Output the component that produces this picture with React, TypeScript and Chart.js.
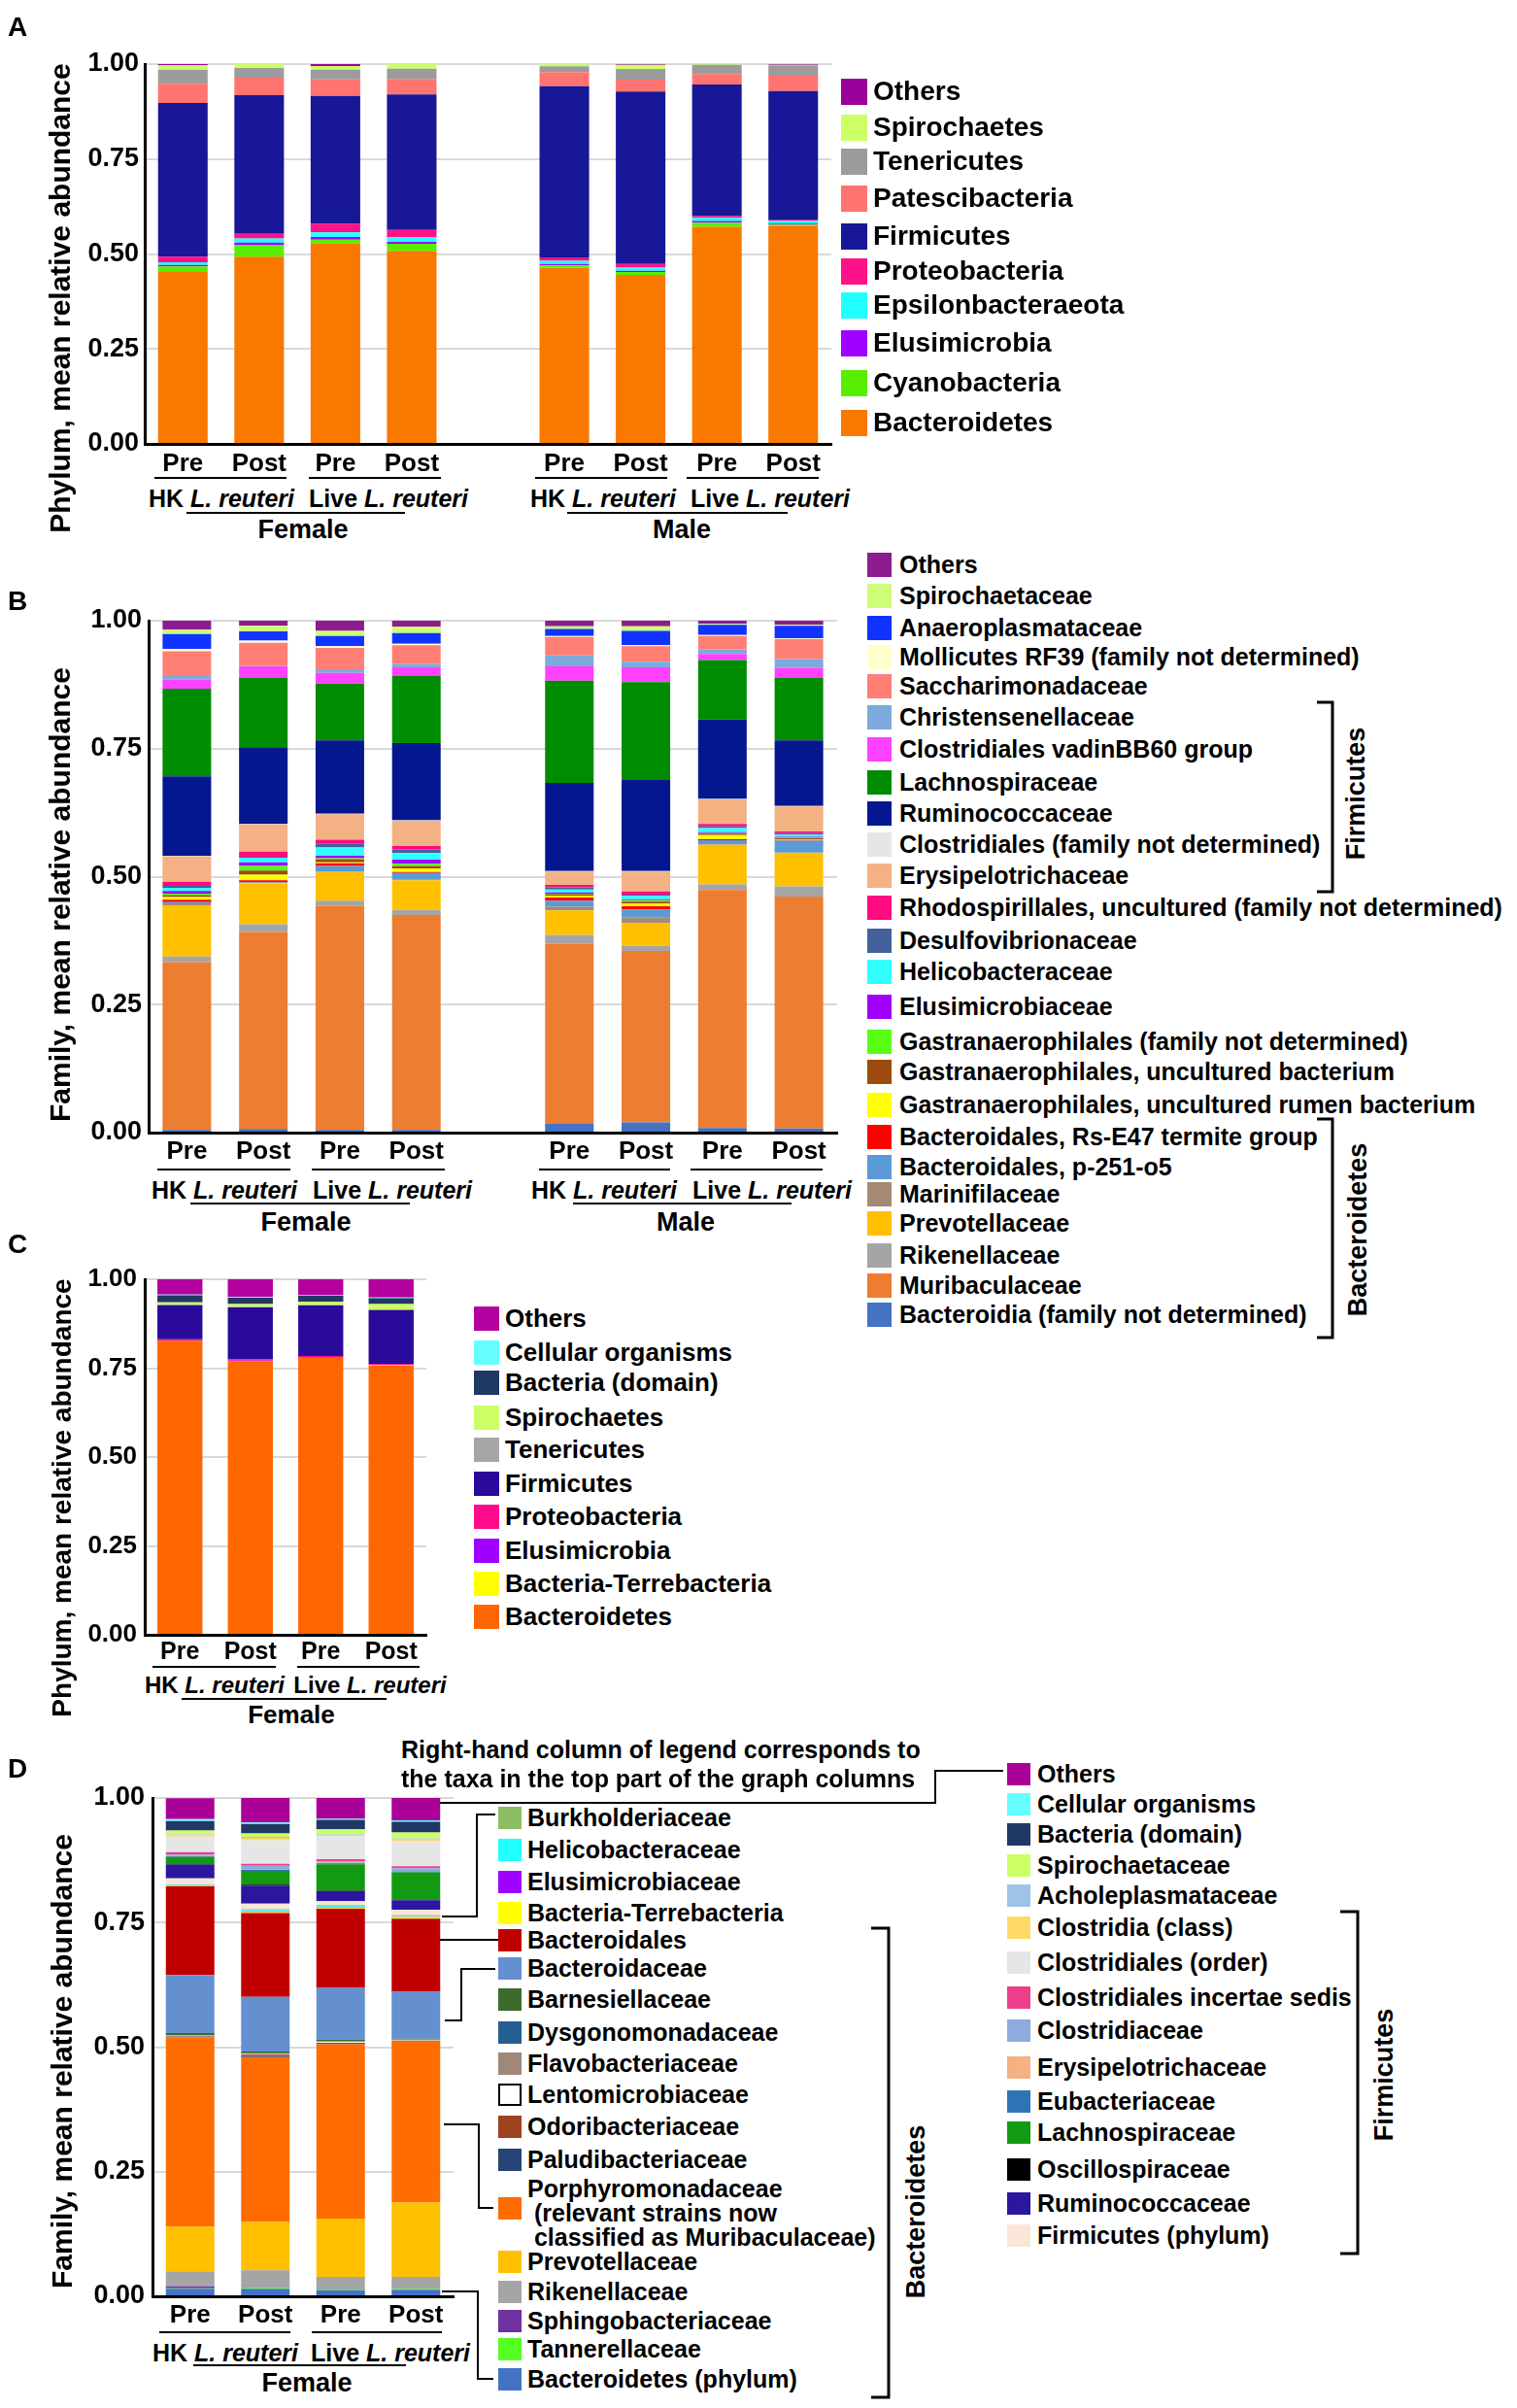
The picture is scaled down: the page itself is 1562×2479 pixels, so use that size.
import React, { useEffect, useRef } from 'react';
import { Chart, registerables } from 'chart.js';

Chart.register(...registerables);

const FONT = '"Liberation Sans", Arial, Helvetica, sans-serif';

// ---------------- categories ----------------
const prePost = ['Pre', 'Post', 'Pre', 'Post'];
const prePostMF = ['Pre', 'Post', 'Pre', 'Post', '', 'Pre', 'Post', 'Pre', 'Post'];
const yTicks = [0, 0.25, 0.5, 0.75, 1];

// ---------------- Panel A (phylum, female + male) ----------------
const aBacteroidetes = [0.453, 0.493, 0.528, 0.508, 0.464, 0.445, 0.5715, 0.574];
const aCyanobacteria = [0.0145, 0.03, 0.0095, 0.019, 0.006, 0.008, 0.011, 0.0035];
const aElusimicrobia = [0.004, 0.007, 0.0075, 0.005, 0.003, 0.003, 0.0045, 0.0025];
const aEpsilonbacteraeota = [0.007, 0.011, 0.012, 0.013, 0.009, 0.008, 0.008, 0.007];
const aProteobacteria = [0.0145, 0.012, 0.023, 0.018, 0.009, 0.01, 0.005, 0.004];
const aFirmicutes = [0.405, 0.365, 0.336, 0.357, 0.451, 0.454, 0.346, 0.338];
const aPatescibacteria = [0.05, 0.046, 0.044, 0.041, 0.037, 0.031, 0.028, 0.04];
const aTenericutes = [0.037, 0.026, 0.025, 0.027, 0.015, 0.028, 0.024, 0.028];
const aSpirochaetes = [0.0116, 0.01, 0.01, 0.012, 0.006, 0.011, 0.002, 0.001];
const aOthers = [0.0034, 0, 0.005, 0, 0, 0.002, 0, 0.002];

// ---------------- Panel B (family, female + male) ----------------
const bBacteroidiaFnd = [0.005, 0.007, 0.005, 0.005, 0.017, 0.02, 0.009, 0.008];
const bMuribaculaceae = [0.328, 0.385, 0.438, 0.42, 0.352, 0.335, 0.465, 0.453];
const bRikenellaceae = [0.011, 0.015, 0.01, 0.01, 0.017, 0.01, 0.011, 0.02];
const bPrevotellaceae = [0.1, 0.08, 0.056, 0.058, 0.048, 0.044, 0.077, 0.065];
const bMarinifilaceae = [0.004, 0.001, 0.001, 0.001, 0.007, 0.012, 0.001, 0.001];
const bP251o5 = [0.002, 0.001, 0.011, 0.013, 0.012, 0.015, 0.008, 0.023];
const bRsE47 = [0.005, 0.004, 0.005, 0.002, 0.006, 0.006, 0.002, 0.001];
const bGastrRumen = [0.005, 0.011, 0.002, 0.007, 0.004, 0.006, 0.008, 0.001];
const bGastrUncultured = [0.004, 0.008, 0.006, 0.005, 0.003, 0.003, 0.003, 0.003];
const bGastrFnd = [0.003, 0.009, 0.002, 0.004, 0.001, 0.003, 0.001, 0.001];
const bElusimicrobiaceae = [0.005, 0.007, 0.005, 0.008, 0.002, 0.002, 0.002, 0.002];
const bHelicobacteraceae = [0.006, 0.009, 0.016, 0.013, 0.006, 0.007, 0.008, 0.004];
const bDesulfovibrionaceae = [0.004, 0.002, 0.008, 0.007, 0.004, 0.002, 0.003, 0.003];
const bRhodospirillales = [0.008, 0.01, 0.007, 0.007, 0.005, 0.006, 0.005, 0.003];
const bErysipelotrichaceae = [0.05, 0.053, 0.05, 0.049, 0.026, 0.039, 0.048, 0.049];
const bClostridialesFnd = [0.001, 0.001, 0.001, 0.001, 0.001, 0.001, 0.001, 0.001];
const bRuminococcaceae = [0.155, 0.15, 0.143, 0.151, 0.172, 0.178, 0.155, 0.128];
const bLachnospiraceae = [0.171, 0.136, 0.111, 0.131, 0.2, 0.191, 0.116, 0.122];
const bVadinBB60 = [0.018, 0.022, 0.021, 0.017, 0.028, 0.029, 0.012, 0.02];
const bChristensenellaceae = [0.007, 0.001, 0.007, 0.006, 0.021, 0.011, 0.009, 0.017];
const bSaccharimonadaceae = [0.048, 0.045, 0.042, 0.037, 0.036, 0.03, 0.026, 0.039];
const bMollicutesRF39 = [0.005, 0.004, 0.003, 0.003, 0.002, 0.002, 0.002, 0.002];
const bAnaeroplasmataceae = [0.029, 0.018, 0.02, 0.021, 0.014, 0.028, 0.02, 0.024];
const bSpirochaetaceae = [0.009, 0.011, 0.01, 0.012, 0.005, 0.009, 0.002, 0.002];
const bOthers = [0.017, 0.01, 0.02, 0.012, 0.011, 0.011, 0.007, 0.009];

// ---------------- Panel C (phylum, female) ----------------
const cBacteroidetes = [0.827, 0.77, 0.779, 0.757];
const cTerrebacteria = [0, 0, 0, 0.001];
const cElusimicrobia = [0.001, 0.001, 0.001, 0.001];
const cProteobacteria = [0.003, 0.004, 0.004, 0.003];
const cFirmicutes = [0.096, 0.146, 0.142, 0.151];
const cTenericutes = [0.002, 0.002, 0.002, 0.002];
const cSpirochaetes = [0.006, 0.007, 0.009, 0.015];
const cBacteriaDomain = [0.02, 0.018, 0.017, 0.017];
const cCellular = [0.002, 0.002, 0.002, 0.002];
const cOthers = [0.043, 0.05, 0.044, 0.051];

// ---------------- Panel D (family, female) ----------------
const dBacteroidetesPhylum = [0.015, 0.015, 0.012, 0.013];
const dTannerellaceae = [0.001, 0.002, 0.002, 0.002];
const dSphingobacteriaceae = [0.004, 0.001, 0.001, 0.001];
const dRikenellaceae = [0.03, 0.034, 0.024, 0.023];
const dPrevotellaceae = [0.09, 0.097, 0.117, 0.149];
const dPorphyromonadaceae = [0.38, 0.331, 0.35, 0.323];
const dPaludibacteriaceae = [0.001, 0.002, 0.001, 0.001];
const dOdoribacteriaceae = [0.001, 0.003, 0.002, 0.001];
const dLentomicrobiaceae = [0.001, 0.001, 0.001, 0.001];
const dFlavobacteriaceae = [0.0005, 0.001, 0.001, 0.001];
const dDysgonomonadaceae = [0.001, 0.001, 0.001, 0.001];
const dBarnesiellaceae = [0.004, 0.003, 0.003, 0.001];
const dBacteroidaceae = [0.116, 0.11, 0.104, 0.094];
const dBacteroidales = [0.178, 0.168, 0.159, 0.147];
const dTerrebacteria = [0.001, 0.002, 0.001, 0.003];
const dElusimicrobiaceae = [0.001, 0.001, 0.001, 0.001];
const dHelicobacteraceae = [0.001, 0.003, 0.003, 0.001];
const dBurkholderiaceae = [0.001, 0.002, 0.002, 0.002];
const dFirmicutesPhylum = [0.012, 0.011, 0.008, 0.011];
const dRuminococcaceae = [0.028, 0.036, 0.02, 0.019];
const dOscillospiraceae = [0.001, 0.002, 0.001, 0.001];
const dLachnospiraceae = [0.014, 0.028, 0.053, 0.055];
const dEubacteriaceae = [0.002, 0.002, 0.002, 0.002];
const dErysipelotrichaceae = [0.001, 0.001, 0.001, 0.001];
const dClostridiaceae = [0.002, 0.007, 0.003, 0.005];
const dIncertaeSedis = [0.005, 0.004, 0.004, 0.004];
const dClostridialesOrder = [0.031, 0.047, 0.047, 0.051];
const dClostridiaClass = [0.004, 0.005, 0.002, 0.004];
const dAcholeplasmataceae = [0.001, 0.002, 0.001, 0.001];
const dSpirochaetaceae = [0.007, 0.007, 0.01, 0.012];
const dBacteriaDomain = [0.019, 0.019, 0.019, 0.021];
const dCellular = [0.004, 0.003, 0.002, 0.003];
const dOthers = [0.042, 0.049, 0.042, 0.045];

type Series = { label: string; color: string; data: number[]; border?: string };

// series listed bottom -> top of the stack
const seriesA: Series[] = [
  { label: 'Bacteroidetes', color: '#F87800', data: aBacteroidetes },
  { label: 'Cyanobacteria', color: '#58EE00', data: aCyanobacteria },
  { label: 'Elusimicrobia', color: '#A000FF', data: aElusimicrobia },
  { label: 'Epsilonbacteraeota', color: '#22FFFF', data: aEpsilonbacteraeota },
  { label: 'Proteobacteria', color: '#FF1188', data: aProteobacteria },
  { label: 'Firmicutes', color: '#171797', data: aFirmicutes },
  { label: 'Patescibacteria', color: '#FF7370', data: aPatescibacteria },
  { label: 'Tenericutes', color: '#9C9C9C', data: aTenericutes },
  { label: 'Spirochaetes', color: '#CCFF66', data: aSpirochaetes },
  { label: 'Others', color: '#990099', data: aOthers },
];

const seriesB: Series[] = [
  { label: 'Bacteroidia (family not determined)', color: '#4472C4', data: bBacteroidiaFnd },
  { label: 'Muribaculaceae', color: '#ED7D31', data: bMuribaculaceae },
  { label: 'Rikenellaceae', color: '#A5A5A5', data: bRikenellaceae },
  { label: 'Prevotellaceae', color: '#FFC000', data: bPrevotellaceae },
  { label: 'Marinifilaceae', color: '#A68A75', data: bMarinifilaceae },
  { label: 'Bacteroidales, p-251-o5', color: '#5B9BD5', data: bP251o5 },
  { label: 'Bacteroidales, Rs-E47 termite group', color: '#FF0000', data: bRsE47 },
  { label: 'Gastranaerophilales, uncultured rumen bacterium', color: '#FFFF00', data: bGastrRumen },
  { label: 'Gastranaerophilales, uncultured bacterium', color: '#9E4A0E', data: bGastrUncultured },
  { label: 'Gastranaerophilales (family not determined)', color: '#55FF11', data: bGastrFnd },
  { label: 'Elusimicrobiaceae', color: '#A000FF', data: bElusimicrobiaceae },
  { label: 'Helicobacteraceae', color: '#33FFFF', data: bHelicobacteraceae },
  { label: 'Desulfovibrionaceae', color: '#44619D', data: bDesulfovibrionaceae },
  { label: 'Rhodospirillales, uncultured (family not determined)', color: '#FF0A80', data: bRhodospirillales },
  { label: 'Erysipelotrichaceae', color: '#F4B183', data: bErysipelotrichaceae },
  { label: 'Clostridiales (family not determined)', color: '#E6E6E6', data: bClostridialesFnd },
  { label: 'Ruminococcaceae', color: '#04178E', data: bRuminococcaceae },
  { label: 'Lachnospiraceae', color: '#008C00', data: bLachnospiraceae },
  { label: 'Clostridiales vadinBB60 group', color: '#FF40FF', data: bVadinBB60 },
  { label: 'Christensenellaceae', color: '#7DAADC', data: bChristensenellaceae },
  { label: 'Saccharimonadaceae', color: '#FF7F74', data: bSaccharimonadaceae },
  { label: 'Mollicutes RF39 (family not determined)', color: '#FFFFCC', data: bMollicutesRF39 },
  { label: 'Anaeroplasmataceae', color: '#1133FF', data: bAnaeroplasmataceae },
  { label: 'Spirochaetaceae', color: '#CCFF77', data: bSpirochaetaceae },
  { label: 'Others', color: '#8E1C8E', data: bOthers },
];

const seriesC: Series[] = [
  { label: 'Bacteroidetes', color: '#FF6600', data: cBacteroidetes },
  { label: 'Bacteria-Terrebacteria', color: '#FFFF00', data: cTerrebacteria },
  { label: 'Elusimicrobia', color: '#A000FF', data: cElusimicrobia },
  { label: 'Proteobacteria', color: '#FF0A8C', data: cProteobacteria },
  { label: 'Firmicutes', color: '#2A0A9A', data: cFirmicutes },
  { label: 'Tenericutes', color: '#A6A6A6', data: cTenericutes },
  { label: 'Spirochaetes', color: '#CCFF66', data: cSpirochaetes },
  { label: 'Bacteria (domain)', color: '#1F3864', data: cBacteriaDomain },
  { label: 'Cellular organisms', color: '#66FFFF', data: cCellular },
  { label: 'Others', color: '#B4009F', data: cOthers },
];

const seriesDBottom: Series[] = [
  { label: 'Bacteroidetes (phylum)', color: '#4472C4', data: dBacteroidetesPhylum },
  { label: 'Tannerellaceae', color: '#55FF22', data: dTannerellaceae },
  { label: 'Sphingobacteriaceae', color: '#7030A0', data: dSphingobacteriaceae },
  { label: 'Rikenellaceae', color: '#A5A5A5', data: dRikenellaceae },
  { label: 'Prevotellaceae', color: '#FFC000', data: dPrevotellaceae },
  { label: 'Porphyromonadaceae\n (relevant strains now\n classified as Muribaculaceae)', color: '#FF6D00', data: dPorphyromonadaceae },
  { label: 'Paludibacteriaceae', color: '#264478', data: dPaludibacteriaceae },
  { label: 'Odoribacteriaceae', color: '#9E4320', data: dOdoribacteriaceae },
  { label: 'Lentomicrobiaceae', color: '#FFFFFF', data: dLentomicrobiaceae, border: '#000000' },
  { label: 'Flavobacteriaceae', color: '#A08878', data: dFlavobacteriaceae },
  { label: 'Dysgonomonadaceae', color: '#255E91', data: dDysgonomonadaceae },
  { label: 'Barnesiellaceae', color: '#3D6B2C', data: dBarnesiellaceae },
  { label: 'Bacteroidaceae', color: '#6490D0', data: dBacteroidaceae },
  { label: 'Bacteroidales', color: '#C00000', data: dBacteroidales },
  { label: 'Bacteria-Terrebacteria', color: '#FFFF00', data: dTerrebacteria },
  { label: 'Elusimicrobiaceae', color: '#A000FF', data: dElusimicrobiaceae },
  { label: 'Helicobacteraceae', color: '#22FFFF', data: dHelicobacteraceae },
  { label: 'Burkholderiaceae', color: '#8CBF64', data: dBurkholderiaceae },
];

const seriesDTop: Series[] = [
  { label: 'Firmicutes (phylum)', color: '#FBE5D6', data: dFirmicutesPhylum },
  { label: 'Ruminococcaceae', color: '#2B169E', data: dRuminococcaceae },
  { label: 'Oscillospiraceae', color: '#000000', data: dOscillospiraceae },
  { label: 'Lachnospiraceae', color: '#129A12', data: dLachnospiraceae },
  { label: 'Eubacteriaceae', color: '#2E75B6', data: dEubacteriaceae },
  { label: 'Erysipelotrichaceae', color: '#F4B183', data: dErysipelotrichaceae },
  { label: 'Clostridiaceae', color: '#8FAADC', data: dClostridiaceae },
  { label: 'Clostridiales incertae sedis', color: '#EB3F8C', data: dIncertaeSedis },
  { label: 'Clostridiales (order)', color: '#E7E6E6', data: dClostridialesOrder },
  { label: 'Clostridia (class)', color: '#FFD966', data: dClostridiaClass },
  { label: 'Acholeplasmataceae', color: '#9DC3E6', data: dAcholeplasmataceae },
  { label: 'Spirochaetaceae', color: '#CCFF66', data: dSpirochaetaceae },
  { label: 'Bacteria (domain)', color: '#1F3864', data: dBacteriaDomain },
  { label: 'Cellular organisms', color: '#66FFFF', data: dCellular },
  { label: 'Others', color: '#AA0098', data: dOthers },
];

// ---------------- legend layout (top -> bottom, y centres in px) ----------------
const legendYA = [94, 131, 166, 204, 243, 279, 314, 353, 394, 435];
const legendYB = [581, 613, 646, 676, 706, 738, 771, 805, 837, 869, 901, 934, 968, 1000, 1036, 1072, 1103, 1137, 1170, 1201, 1229, 1259, 1292, 1323, 1353];
const legendYC = [1357, 1392, 1423, 1459, 1492, 1527, 1561, 1596, 1630, 1664];
const legendYDmid = [1871, 1904, 1937, 1969, 1997, 2026, 2058, 2092, 2124, 2156, 2189, 2223, 2273, 2328, 2359, 2389, 2418, 2449];
const legendYDright = [1826, 1857, 1888, 1920, 1951, 1984, 2020, 2056, 2090, 2128, 2163, 2195, 2233, 2268, 2301];

type ChartProps = {
  left: number; top: number; width: number; height: number;
  padTop: number; padRight: number; yW: number; xH: number;
  labels: string[]; series: Series[]; gapAt?: number; barPct: number;
  yFont: number; xFont: number; xPad: number; yPad: number;
};

function StackedBars(p: ChartProps) {
  const ref = useRef<HTMLCanvasElement | null>(null);
  useEffect(() => {
    if (!ref.current) return;
    const withGap = (d: number[]) =>
      p.gapAt === undefined ? d : [...d.slice(0, p.gapAt), null, ...d.slice(p.gapAt)];
    const chart = new Chart(ref.current, {
      type: 'bar',
      data: {
        labels: p.labels,
        datasets: p.series.map((s) => ({
          label: s.label,
          data: withGap(s.data) as any,
          backgroundColor: s.color,
          borderWidth: 0,
          barPercentage: p.barPct,
          categoryPercentage: 1,
        })),
      },
      options: {
        animation: false,
        responsive: false,
        maintainAspectRatio: false,
        layout: { padding: { top: p.padTop, right: p.padRight, left: 0, bottom: 0 }, autoPadding: false } as any,
        plugins: { legend: { display: false }, tooltip: { enabled: false } },
        scales: {
          x: {
            stacked: true,
            grid: { display: false, drawTicks: false },
            border: { color: '#000', width: 3 },
            ticks: {
              color: '#000',
              font: { family: FONT, size: p.xFont, weight: 'bold' },
              padding: p.xPad,
              maxRotation: 0,
              autoSkip: false,
            },
            afterFit: (s: any) => { s.height = p.xH; },
          },
          y: {
            stacked: true,
            min: 0,
            max: 1,
            afterBuildTicks: (s: any) => { s.ticks = yTicks.map((v) => ({ value: v })); },
            grid: { color: '#D9D9D9', lineWidth: 2, drawTicks: false },
            border: { color: '#000', width: 3 },
            ticks: {
              color: '#000',
              font: { family: FONT, size: p.yFont, weight: 'bold' },
              padding: p.yPad,
              callback: (v: any) => Number(v).toFixed(2),
            },
            afterFit: (s: any) => { s.width = p.yW; },
          },
        },
      } as any,
    });
    return () => chart.destroy();
  }, []);
  return (
    <canvas
      ref={ref}
      width={p.width}
      height={p.height}
      style={{ position: 'absolute', left: p.left, top: p.top, width: p.width, height: p.height }}
    />
  );
}

function Legend(props: {
  items: Series[]; ys: number[]; x: number; w: number; h: number; gap: number; size: number; multiDy?: number;
}) {
  const { items, ys, x, w, h, gap, size } = props;
  return (
    <>
      {items.map((it, i) => {
        const multi = it.label.includes('\n');
        const ty = multi ? ys[i] + (props.multiDy ?? 0) : ys[i];
        return (
          <React.Fragment key={i}>
            <div
              style={{
                position: 'absolute', left: x, top: ys[i] - h / 2, width: w, height: h,
                background: it.color, boxSizing: 'border-box',
                border: it.border ? `2px solid ${it.border}` : 'none',
              }}
            />
            <div
              style={{
                position: 'absolute', left: x + w + gap, top: ty, transform: 'translateY(-50%)',
                fontSize: size, fontWeight: 700, lineHeight: multi ? `${size}px` : 1,
                whiteSpace: 'pre',
              }}
            >
              {it.label}
            </div>
          </React.Fragment>
        );
      })}
    </>
  );
}

function Txt(props: { x: number; y: number; size: number; center?: boolean; children: React.ReactNode }) {
  return (
    <div
      style={{
        position: 'absolute', left: props.x, top: props.y,
        transform: props.center ? 'translate(-50%, -50%)' : 'translateY(-50%)',
        fontSize: props.size, fontWeight: 700, lineHeight: 1, whiteSpace: 'nowrap',
      }}
    >
      {props.children}
    </div>
  );
}

function VTxt(props: { x: number; y: number; size: number; children: React.ReactNode }) {
  return (
    <div
      style={{
        position: 'absolute', left: props.x, top: props.y,
        transform: 'translate(-50%, -50%) rotate(-90deg)',
        fontSize: props.size, fontWeight: 700, lineHeight: 1, whiteSpace: 'nowrap',
      }}
    >
      {props.children}
    </div>
  );
}

const HK = () => (<>HK <i>L. reuteri</i></>);
const LIVE = () => (<>Live <i>L. reuteri</i></>);

export default function App() {
  const rev = (s: Series[]) => [...s].reverse();
  const hl = (x1: number, x2: number, y: number, w = 2) => (
    <line x1={x1} x2={x2} y1={y} y2={y} stroke="#000" strokeWidth={w} />
  );
  const pl = (pts: number[][], w = 2) => (
    <polyline points={pts.map((p) => p.join(',')).join(' ')} fill="none" stroke="#000" strokeWidth={w} />
  );
  return (
    <div
      style={{
        position: 'absolute', left: 0, top: 0, width: 1562, height: 2479, background: '#fff',
        fontFamily: FONT, color: '#000', overflow: 'hidden',
      }}
    >
      {/* Charts */}
      <StackedBars left={0} top={36} width={870} height={461} padTop={30} padRight={14} yW={149} xH={40}
        labels={prePostMF} series={seriesA} gapAt={4} barPct={0.65} yFont={27} xFont={26} xPad={5} yPad={6} />
      <StackedBars left={0} top={609} width={876} height={597} padTop={30} padRight={14} yW={153} xH={40}
        labels={prePostMF} series={seriesB} gapAt={4} barPct={0.635} yFont={27} xFont={26} xPad={4} yPad={7} />
      <StackedBars left={0} top={1287} width={453} height={434} padTop={30} padRight={14} yW={149} xH={38}
        labels={prePost} series={seriesC} barPct={0.64} yFont={26} xFont={25} xPad={3} yPad={8} />
      <StackedBars left={0} top={1821} width={481} height={583} padTop={30} padRight={14} yW={157} xH={40}
        labels={prePost} series={[...seriesDBottom, ...seriesDTop]} barPct={0.645} yFont={27} xFont={26} xPad={4} yPad={8} />

      {/* Panel letters */}
      <Txt x={8} y={28} size={28}>A</Txt>
      <Txt x={8} y={619} size={28}>B</Txt>
      <Txt x={8} y={1281} size={28}>C</Txt>
      <Txt x={8} y={1821} size={28}>D</Txt>

      {/* Y titles */}
      <VTxt x={62} y={307} size={30}>Phylum, mean relative abundance</VTxt>
      <VTxt x={62} y={921} size={30}>Family, mean relative abundance</VTxt>
      <VTxt x={64} y={1542} size={28}>Phylum, mean relative abundance</VTxt>
      <VTxt x={64} y={2122} size={30}>Family, mean relative abundance</VTxt>

      {/* Group labels A */}
      <Txt x={228} y={513} size={25} center><HK /></Txt>
      <Txt x={400} y={513} size={25} center><LIVE /></Txt>
      <Txt x={621} y={513} size={25} center><HK /></Txt>
      <Txt x={793} y={513} size={25} center><LIVE /></Txt>
      <Txt x={312} y={545} size={27} center>Female</Txt>
      <Txt x={702} y={545} size={27} center>Male</Txt>

      {/* Group labels B */}
      <Txt x={231} y={1225} size={25} center><HK /></Txt>
      <Txt x={404} y={1225} size={25} center><LIVE /></Txt>
      <Txt x={622} y={1225} size={25} center><HK /></Txt>
      <Txt x={795} y={1225} size={25} center><LIVE /></Txt>
      <Txt x={315} y={1258} size={27} center>Female</Txt>
      <Txt x={706} y={1258} size={27} center>Male</Txt>

      {/* Group labels C */}
      <Txt x={221} y={1735} size={24} center><HK /></Txt>
      <Txt x={381} y={1735} size={24} center><LIVE /></Txt>
      <Txt x={300} y={1765} size={26} center>Female</Txt>

      {/* Group labels D */}
      <Txt x={232} y={2422} size={25} center><HK /></Txt>
      <Txt x={402} y={2422} size={25} center><LIVE /></Txt>
      <Txt x={316} y={2453} size={27} center>Female</Txt>

      {/* Legends */}
      <Legend items={rev(seriesA)} ys={legendYA} x={866} w={27} h={27} gap={6} size={28} />
      <Legend items={rev(seriesB)} ys={legendYB} x={893} w={25} h={25} gap={8} size={25} />
      <Legend items={rev(seriesC)} ys={legendYC} x={488} w={26} h={25} gap={6} size={26} />
      <Legend items={rev(seriesDBottom)} ys={legendYDmid} x={513} w={24} h={23} gap={6} size={25} multiDy={5} />
      <Legend items={rev(seriesDTop)} ys={legendYDright} x={1037} w={24} h={23} gap={7} size={25} />

      {/* Group names of brackets */}
      <VTxt x={1396} y={817} size={27}>Firmicutes</VTxt>
      <VTxt x={1398} y={1266} size={27}>Bacteroidetes</VTxt>
      <VTxt x={943} y={2277} size={27}>Bacteroidetes</VTxt>
      <VTxt x={1425} y={2136} size={27}>Firmicutes</VTxt>

      {/* D note */}
      <Txt x={413} y={1801} size={25}>Right-hand column of legend corresponds to</Txt>
      <Txt x={413} y={1831} size={25}>the taxa in the top part of the graph columns</Txt>

      <svg width={1562} height={2479} style={{ position: 'absolute', left: 0, top: 0, pointerEvents: 'none' }}>
        {/* A underlines */}
        {hl(159, 295, 492)}{hl(318, 454, 492)}{hl(551, 687, 492)}{hl(707, 843, 492)}
        {hl(192, 417, 528)}{hl(584, 811, 528)}
        {/* B underlines */}
        {hl(162, 299, 1204)}{hl(321, 458, 1204)}{hl(555, 690, 1204)}{hl(711, 847, 1204)}
        {hl(196, 422, 1239)}{hl(590, 815, 1239)}
        {/* C underlines */}
        {hl(157, 284, 1716)}{hl(306, 432, 1716)}
        {hl(187, 398, 1749)}
        {/* D underlines */}
        {hl(164, 299, 2401)}{hl(321, 455, 2401)}
        {hl(199, 418, 2435)}

        {/* brackets */}
        {pl([[1356, 723], [1372, 723], [1372, 918], [1356, 918]], 3)}
        {pl([[1356, 1152], [1372, 1152], [1372, 1377], [1356, 1377]], 3)}
        {pl([[897, 1985], [915, 1985], [915, 2468], [897, 2468]], 3)}
        {pl([[1380, 1968], [1398, 1968], [1398, 2320], [1380, 2320]], 3)}

        {/* D connectors */}
        {pl([[453, 1856], [963, 1856], [963, 1823], [1033, 1823]])}
        {pl([[455, 1973], [491, 1973], [491, 1868], [510, 1868]])}
        {pl([[453, 1997], [513, 1997]])}
        {pl([[458, 2080], [475, 2080], [475, 2027], [510, 2027]])}
        {pl([[457, 2187], [493, 2187], [493, 2273], [508, 2273]])}
        {pl([[455, 2359], [492, 2359], [492, 2449], [508, 2449]])}
      </svg>
    </div>
  );
}
